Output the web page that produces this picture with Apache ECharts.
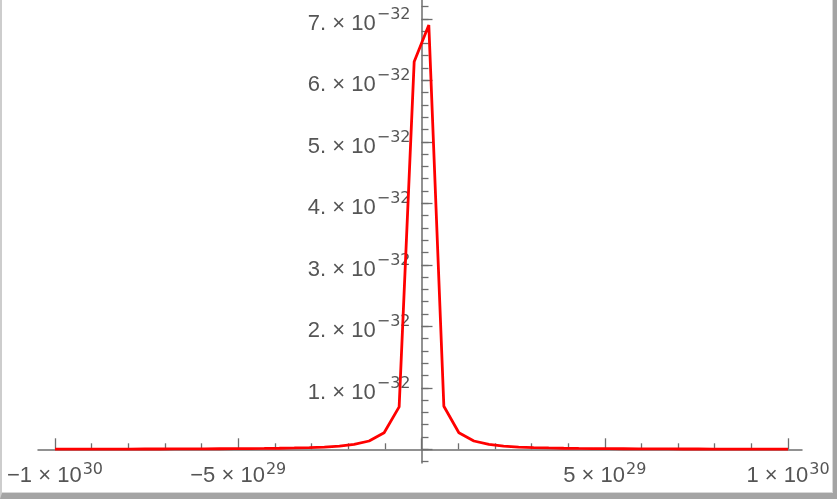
<!DOCTYPE html>
<html>
<head>
<meta charset="utf-8">
<script src="https://cdn.jsdelivr.net/npm/echarts@6/dist/echarts.min.js"></script>
<style>
  html, body { margin: 0; padding: 0; background: #fff; }
  #chart { position: absolute; left: 0; top: 0; width: 837px; height: 499px; }
  /* grey window edge seen in the screenshot */
  #frame { position: absolute; left: 0; top: 0; width: 837px; height: 499px; box-sizing: border-box;
    border-left: 2px solid #cdcdcd; border-right: 4px solid #a4a4a4; border-bottom: 6px solid #a4a4a4; pointer-events: none; }
  #frame div { width: 100%; height: 100%; box-sizing: border-box; border-right: 1px solid #d8d8d8; border-bottom: 1px solid #d8d8d8; }
</style>
</head>
<body>
<div id="chart"></div>
<div id="frame"><div></div></div>
<script>
// x in units of 1e30, y in units of 1e-32
const xValues = [
  -1.000, -0.959, -0.918, -0.878, -0.837, -0.796, -0.755, -0.714, -0.673, -0.633,
  -0.592, -0.551, -0.510, -0.469, -0.429, -0.388, -0.347, -0.306, -0.265, -0.224,
  -0.184, -0.143, -0.102, -0.061, -0.020,
  0.020, 0.061, 0.102, 0.143, 0.184, 0.224, 0.265, 0.306, 0.347, 0.388,
  0.429, 0.469, 0.510, 0.551, 0.592, 0.633, 0.673, 0.714, 0.755, 0.796,
  0.837, 0.878, 0.918, 0.959, 1.000
];
const yValues = [
  0.003, 0.003, 0.003, 0.003, 0.004, 0.004, 0.005, 0.005, 0.006, 0.007,
  0.007, 0.009, 0.010, 0.012, 0.014, 0.017, 0.022, 0.028, 0.037, 0.052,
  0.080, 0.135, 0.27, 0.69, 6.30,
  6.90, 0.70, 0.27, 0.135, 0.080, 0.052, 0.037, 0.028, 0.022, 0.017,
  0.014, 0.012, 0.010, 0.009, 0.007, 0.007, 0.006, 0.005, 0.005, 0.004,
  0.004, 0.003, 0.003, 0.003, 0.003
];

// tick labels
const xTickValues = [-1, -0.5, 0.5, 1];
const xTickMantissa = ['\u22121', '\u22125', '5', '1'];
const xTickExponent = ['30', '29', '29', '30'];
const yTickMantissa = ['1.', '2.', '3.', '4.', '5.', '6.', '7.'];
const yTickExponent = '\u221232';

const AXIS = '#6e6e6e';
const TEXT = '#555555';
const FONT = "'Liberation Sans', Arial, sans-serif";
const SUP_FONT = "'DejaVu Sans', sans-serif";

// pixel mapping shared by the grids
const X0 = 421.5, XS = 366.5;   // px of x = 0, px per 1e30
const Y0 = 449.3, YS = 61.5;    // px of y = 0, px per 1e-32
const W = 837, H = 499;

const hiddenLine = { show: true, onZero: true, lineStyle: { opacity: 0 } };
const tickLine = { color: AXIS, width: 1.3 };
const off = { show: false };

const chart = echarts.init(document.getElementById('chart'), null, { renderer: 'canvas' });

chart.setOption({
  animation: false,
  grid: [
    // 0: axis lines + curve
    { left: 38, right: W - 802, top: 0, bottom: H - 463, outerBoundsMode: 'none' },
    // 1: ticks on both axes
    { left: X0 - XS, right: W - (X0 + XS), top: Y0 - 7.2 * YS, bottom: H - (Y0 + 0.2 * YS), outerBoundsMode: 'none' },
    // 2: y major ticks + y labels (left edge on x = 0)
    { left: X0, right: W - (X0 + XS), top: Y0 - 7 * YS, bottom: H - Y0, outerBoundsMode: 'none' },
    // 3: x labels (bottom edge on y = 0)
    { left: X0 - XS, right: W - (X0 + XS), top: Y0 - 7 * YS, bottom: H - Y0, outerBoundsMode: 'none' }
  ],
  xAxis: [
    {
      gridIndex: 0, type: 'value',
      min: (38 - X0) / XS, max: (802 - X0) / XS,
      axisLine: { show: true, onZero: true, lineStyle: { color: AXIS, width: 1.5 } },
      axisTick: off, axisLabel: off, splitLine: off
    },
    {
      gridIndex: 1, type: 'value', min: -1, max: 1, interval: 0.5,
      axisLine: hiddenLine,
      axisTick: { show: true, inside: true, length: 11, lineStyle: tickLine },
      minorTick: { show: true, splitNumber: 5, length: 6, lineStyle: tickLine },
      splitLine: off, minorSplitLine: off, axisLabel: off
    },
    {
      gridIndex: 2, type: 'value', min: 0, max: 1,
      axisLine: hiddenLine, axisTick: off, axisLabel: off, splitLine: off
    },
    {
      gridIndex: 3, type: 'value', min: -1, max: 1, interval: 0.5,
      axisLine: hiddenLine, axisTick: off, splitLine: off,
      axisLabel: {
        show: true, margin: 12, color: TEXT, fontFamily: FONT, fontSize: 22,
        showMinLabel: true, showMaxLabel: true, interval: 0,
        formatter: function (v) {
          const i = xTickValues.indexOf(v);
          if (i < 0) return '';
          return '{m|' + xTickMantissa[i] + ' \u00d7 10}{s|' + xTickExponent[i] + '}';
        },
        rich: {
          m: { fontSize: 22, fontFamily: FONT, color: TEXT, lineHeight: 28, verticalAlign: 'top', padding: [4, 0, 0, 0] },
          s: { fontSize: 16, fontFamily: SUP_FONT, color: TEXT, lineHeight: 28, verticalAlign: 'top', padding: [1, 0, 0, 1] }
        }
      }
    }
  ],
  yAxis: [
    {
      gridIndex: 0, type: 'value',
      min: -(463 - Y0) / YS, max: Y0 / YS,
      axisLine: { show: true, onZero: true, lineStyle: { color: AXIS, width: 1.5 } },
      axisTick: off, axisLabel: off, splitLine: off
    },
    {
      gridIndex: 1, type: 'value', min: -0.2, max: 7.2, interval: 0.2,
      axisLine: hiddenLine,
      axisTick: { show: true, inside: true, length: 7, lineStyle: tickLine },
      axisLabel: off, splitLine: off
    },
    {
      gridIndex: 2, type: 'value', min: 0, max: 7, interval: 1,
      axisLine: hiddenLine,
      axisTick: { show: true, inside: true, length: 11, lineStyle: tickLine },
      splitLine: off,
      axisLabel: {
        show: true, margin: 11, color: TEXT, fontFamily: FONT, fontSize: 22,
        showMinLabel: true, showMaxLabel: true, interval: 0,
        formatter: function (v) {
          if (v < 1) return '';
          return '{m|' + yTickMantissa[v - 1] + ' \u00d7 10}{s|' + yTickExponent + '}';
        },
        rich: {
          m: { fontSize: 22, fontFamily: FONT, color: TEXT, lineHeight: 30, verticalAlign: 'top', padding: [9, 0, 0, 0] },
          s: { fontSize: 16, fontFamily: SUP_FONT, color: TEXT, lineHeight: 30, verticalAlign: 'top', padding: [3, 0, 0, 1] }
        }
      }
    },
    {
      gridIndex: 3, type: 'value', min: 0, max: 7,
      axisLine: hiddenLine, axisTick: off, axisLabel: off, splitLine: off
    }
  ],
  series: [{
    type: 'line',
    xAxisIndex: 0, yAxisIndex: 0,
    data: xValues.map((x, i) => [x, yValues[i]]),
    symbol: 'none',
    lineStyle: { color: '#ff0000', width: 2.8 },
    clip: true
  }]
});
</script>
</body>
</html>
